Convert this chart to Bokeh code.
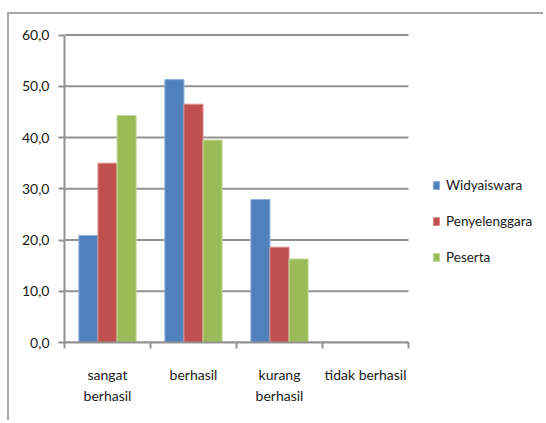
import numpy as np
from bokeh.plotting import figure
from bokeh.models import Range1d, FixedTicker, Legend, LegendItem
from bokeh.embed import file_html
from bokeh.resources import INLINE

# ---- data ----
categories = ["sangat berhasil", "berhasil", "kurang berhasil", "tidak berhasil"]
category_labels = ["sangat\nberhasil", "berhasil", "kurang\nberhasil", "tidak berhasil"]
series_names = ["Widyaiswara", "Penyelenggara", "Peserta"]
widyaiswara = [20.9, 51.3, 27.9, 0.0]
penyelenggara = [35.0, 46.5, 18.6, 0.0]
peserta = [44.3, 39.5, 16.3, 0.0]
y_ticks = [0, 10, 20, 30, 40, 50, 60]
y_tick_labels = ["0,0", "10,0", "20,0", "30,0", "40,0", "50,0", "60,0"]

colors = ["#4F81BD", "#C0504D", "#9BBB59"]
edge_colors = ["#8fb0d9", "#dc8f8d", "#c5d99f"]
FONT = "Lato"
GRAY = "#929292"
TEXT = "#1a1a1a"

n = len(categories)
W, H = 536, 408
LEFT, TOP, BOTTOM = 55, 19, 80
X_END = n * (W - LEFT) / 344      # frame extends to the right to host the legend

p = figure(width=W, height=H, output_backend="svg", toolbar_location=None,
           x_range=Range1d(0, X_END), y_range=Range1d(0, 60.3),
           min_border_left=LEFT, min_border_right=0, min_border_top=TOP,
           min_border_bottom=BOTTOM)
p.margin = (12, 0, 0, 7)
p.outline_line_color = None
p.background_fill_color = "white"
p.border_fill_color = "white"
p.styles = {"border-top": "2px solid #a8a8a8", "border-left": "2px solid #a8a8a8"}

# horizontal gridlines only over the category area
p.xgrid.grid_line_color = None
p.ygrid.grid_line_color = None
p.segment(x0=[0] * len(y_ticks), x1=[n] * len(y_ticks), y0=y_ticks, y1=y_ticks,
          line_color=GRAY, line_width=2)

# bars
series = [widyaiswara, penyelenggara, peserta]
bar_w = 0.222
centers = np.arange(n) + 0.5
items = []
for i, (name, vals) in enumerate(zip(series_names, series)):
    r = p.vbar(x=centers + (i - 1) * bar_w, top=vals, width=bar_w,
               fill_color=colors[i], line_color=edge_colors[i], line_width=1)
    items.append(LegendItem(label=name, renderers=[r]))

# y axis
p.yaxis.bounds = (0, 60)
p.yaxis.ticker = FixedTicker(ticks=y_ticks, minor_ticks=[])
p.yaxis.major_label_overrides = {t: l for t, l in zip(y_ticks, y_tick_labels)}
p.yaxis.major_tick_out = 6
p.yaxis.major_tick_in = 0
p.yaxis.minor_tick_out = 0
p.yaxis.axis_line_color = GRAY
p.yaxis.axis_line_width = 2
p.yaxis.major_tick_line_color = GRAY
p.yaxis.major_tick_line_width = 2
p.yaxis.major_label_standoff = 9
p.yaxis.major_label_text_font = FONT
p.yaxis.major_label_text_font_size = "14px"
p.yaxis.major_label_text_color = TEXT

# x axis: labels at category centres, ticks at category boundaries
p.xaxis.bounds = (0, n)
p.xaxis.ticker = FixedTicker(ticks=[float(c) for c in centers],
                             minor_ticks=[float(k) for k in range(n + 1)])
p.xaxis.major_label_overrides = {float(c): l for c, l in zip(centers, category_labels)}
p.xaxis.major_tick_out = 0
p.xaxis.major_tick_in = 0
p.xaxis.minor_tick_out = 6
p.xaxis.minor_tick_in = 0
p.xaxis.minor_tick_line_color = GRAY
p.xaxis.minor_tick_line_width = 2
p.xaxis.axis_line_color = GRAY
p.xaxis.axis_line_width = 2
p.xaxis.major_label_standoff = 17
p.xaxis.major_label_text_font = FONT
p.xaxis.major_label_text_font_size = "14px"
p.xaxis.major_label_text_color = TEXT
p.xaxis.major_label_text_line_height = 1.29

# legend
legend = Legend(items=items, location=(368, 75), orientation="vertical",
                glyph_width=8, glyph_height=10, label_height=20, spacing=16,
                label_standoff=6, padding=0, margin=0,
                label_text_font=FONT, label_text_font_size="13.5px",
                label_text_color=TEXT, border_line_color=None,
                background_fill_alpha=0)
p.add_layout(legend)

open("out.html", "w").write(file_html(p, INLINE))
